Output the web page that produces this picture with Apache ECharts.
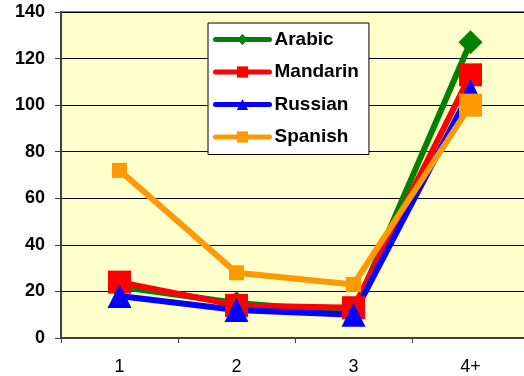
<!DOCTYPE html>
<html>
<head>
<meta charset="utf-8">
<script src="https://cdn.jsdelivr.net/npm/echarts@6/dist/echarts.min.js"></script>
<style>
  html, body { margin: 0; padding: 0; background: #fff; }
  #chart { width: 524px; height: 376px; }
</style>
</head>
<body>
<div id="chart"></div>
<script>
// Categories along the x axis
const categories = ['1', '2', '3', '4+'];

// Values per language
const arabic   = [22, 15, 11, 127];
const mandarin = [24, 14, 13, 113];
const russian  = [18, 12, 10, 106];
const spanish  = [72, 28, 23, 100];

// Y axis ticks
const yTicks = [0, 20, 40, 60, 80, 100, 120, 140];

const font = 'Liberation Sans, Arial, sans-serif';

function lineSeries(name, data, color, symbol, size) {
  return {
    name: name,
    type: 'line',
    data: data,
    symbol: symbol,
    symbolSize: size,
    lineStyle: { color: color, width: 6 },
    itemStyle: { color: color },
    emphasis: { disabled: true },
    animation: false
  };
}

const chart = echarts.init(document.getElementById('chart'), null, { renderer: 'canvas' });
chart.setOption({
  backgroundColor: '#ffffff',
  animation: false,
  grid: {
    left: 61, top: 12, width: 468, height: 326,
    outerBoundsMode: 'none',
    containLabel: false,
    show: true,
    backgroundColor: '#FFFFCC',
    borderColor: '#808080',
    borderWidth: 2
  },
  legend: {
    orient: 'vertical',
    left: 208,
    top: 23,
    padding: [7, 10, 8, 5],
    backgroundColor: '#ffffff',
    borderColor: '#000000',
    borderWidth: 1,
    itemWidth: 54,
    itemHeight: 14,
    itemGap: 13.5,
    lineStyle: { width: 5, cap: 'round' },
    textStyle: { fontFamily: font, fontWeight: 'bold', fontSize: 19, color: '#000' },
    data: ['Arabic', 'Mandarin', 'Russian', 'Spanish']
  },
  xAxis: {
    type: 'category',
    data: categories,
    boundaryGap: true,
    axisLine: { lineStyle: { color: '#404040', width: 2 } },
    axisTick: { show: true, length: 5, lineStyle: { color: '#404040' } },
    axisLabel: { fontFamily: font, fontSize: 18, color: '#000', margin: 20 },
    splitLine: { show: false }
  },
  yAxis: {
    type: 'value',
    min: yTicks[0],
    max: yTicks[yTicks.length - 1],
    interval: 20,
    axisLine: { show: true, lineStyle: { color: '#404040', width: 2 } },
    axisTick: { show: true, length: 6, inside: false, lineStyle: { color: '#404040' } },
    axisLabel: { fontFamily: font, fontWeight: 'bold', fontSize: 18, color: '#000', margin: 16 },
    splitLine: { show: true, lineStyle: { color: '#000000', width: 1 } }
  },
  series: [
    lineSeries('Arabic', arabic, '#008000', 'diamond', 24),
    lineSeries('Mandarin', mandarin, '#FF0000', 'rect', 23),
    lineSeries('Russian', russian, '#0000FF', 'triangle', 24),
    lineSeries('Spanish', spanish, '#FF9900', 'rect',
      function (value, params) { return params.dataIndex === 3 ? 23 : 15; })
  ]
});
</script>
</body>
</html>
